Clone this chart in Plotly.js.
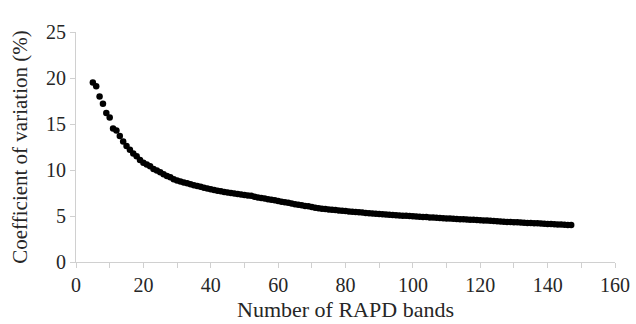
<!DOCTYPE html>
<html>
<head>
<meta charset="utf-8">
<script src="https://cdn.plot.ly/plotly-3.0.1.min.js"></script>
<style>html,body{margin:0;padding:0;background:#fff;}#chart{width:636px;height:324px;}</style>
</head>
<body>
<div id="chart"></div>
<script>
const bands = [5,6,7,8,9,10,11,12,13,14,15,16,17,18,19,20,21,22,23,24,25,26,27,28,29,30,31,32,33,34,35,36,37,38,39,40,41,42,43,44,45,46,47,48,49,50,51,52,53,54,55,56,57,58,59,60,61,62,63,64,65,66,67,68,69,70,71,72,73,74,75,76,77,78,79,80,81,82,83,84,85,86,87,88,89,90,91,92,93,94,95,96,97,98,99,100,101,102,103,104,105,106,107,108,109,110,111,112,113,114,115,116,117,118,119,120,121,122,123,124,125,126,127,128,129,130,131,132,133,134,135,136,137,138,139,140,141,142,143,144,145,146,147];
const cv = [19.5,19.1,18.0,17.2,16.2,15.7,14.5,14.3,13.7,13.1,12.6,12.2,11.8,11.5,11.1,10.8,10.6,10.4,10.1,9.95,9.75,9.55,9.35,9.2,9.0,8.85,8.75,8.65,8.55,8.45,8.35,8.25,8.18,8.08,7.98,7.9,7.82,7.75,7.68,7.6,7.55,7.5,7.45,7.38,7.33,7.28,7.24,7.2,7.1,7.02,6.96,6.9,6.83,6.76,6.7,6.62,6.55,6.5,6.43,6.36,6.28,6.22,6.17,6.1,6.05,5.98,5.9,5.84,5.8,5.76,5.72,5.68,5.64,5.6,5.57,5.54,5.5,5.47,5.44,5.41,5.37,5.33,5.29,5.27,5.24,5.21,5.18,5.15,5.13,5.1,5.08,5.06,5.04,5.02,5.0,4.97,4.95,4.93,4.9,4.88,4.85,4.83,4.81,4.79,4.76,4.74,4.72,4.7,4.68,4.66,4.64,4.62,4.6,4.58,4.57,4.55,4.52,4.5,4.48,4.45,4.43,4.4,4.38,4.36,4.35,4.33,4.31,4.29,4.27,4.25,4.23,4.21,4.2,4.18,4.16,4.14,4.12,4.1,4.08,4.07,4.05,4.03,4.01];
const xTitle = "Number of RAPD bands";
const yTitle = "Coefficient of variation (%)";

const fontFam = "'Liberation Serif', 'Times New Roman', Times, serif";
const txt = "#262626";
Plotly.newPlot("chart", [{
  x: bands, y: cv, type: "scatter", mode: "markers",
  marker: {color: "#000", size: 6.5}
}], {
  width: 636, height: 324,
  margin: {l: 76, r: 21, t: 32, b: 62},
  paper_bgcolor: "#fff", plot_bgcolor: "#fff",
  showlegend: false,
  font: {family: fontFam, size: 19, color: txt},
  xaxis: {
    range: [0, 160], tick0: 0, dtick: 20, showgrid: false, zeroline: false,
    showline: true, linecolor: "#d0d0d0", linewidth: 1,
    ticks: "outside", ticklen: 5, tickcolor: "#d0d0d0",
    minor: {dtick: 10, ticks: "outside", ticklen: 5, tickcolor: "#d0d0d0"},
    tickfont: {family: fontFam, size: 20, color: txt},
    title: {text: xTitle, font: {family: fontFam, size: 22, color: txt}, standoff: 6}
  },
  yaxis: {
    range: [0, 25], tick0: 0, dtick: 5, showgrid: false, zeroline: false,
    showline: true, linecolor: "#d0d0d0", linewidth: 1,
    ticks: "outside", ticklen: 5, tickcolor: "#d0d0d0",
    tickfont: {family: fontFam, size: 20, color: txt},
    title: {text: yTitle, font: {family: fontFam, size: 21, color: txt}, standoff: 12}
  }
}, {displayModeBar: false, staticPlot: true});
</script>
</body>
</html>
